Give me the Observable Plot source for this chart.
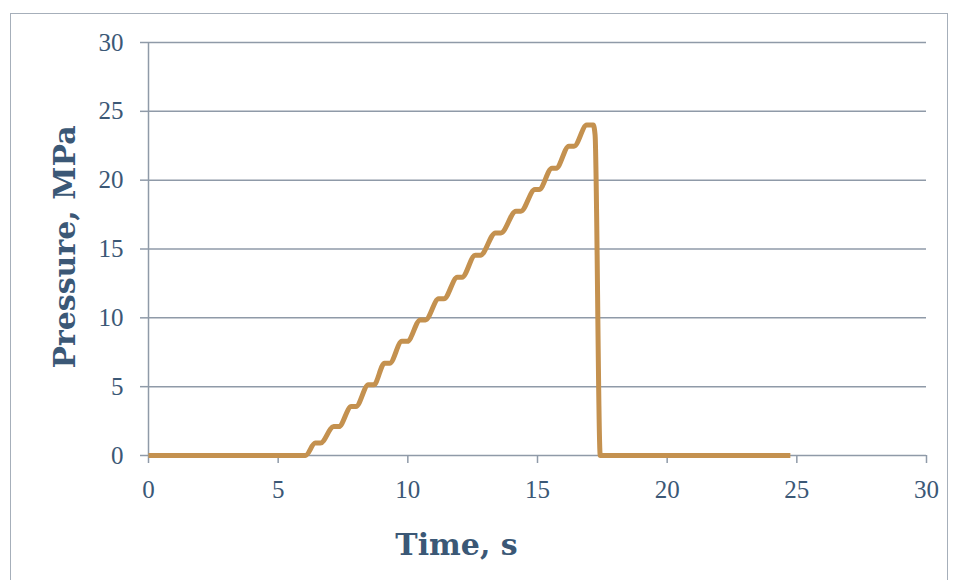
<!DOCTYPE html>
<html>
<head>
<meta charset="utf-8">
<script src="https://cdn.jsdelivr.net/npm/d3@7"></script>
<script src="https://cdn.jsdelivr.net/npm/@observablehq/plot@0.6"></script>
<style>
  html, body { margin: 0; padding: 0; background: #ffffff; }
  #wrap { position: relative; width: 957px; height: 580px; overflow: hidden; }
  #chart { position: absolute; left: 0; top: 0; }
  #border {
    position: absolute; left: 10px; top: 13px; width: 938px; height: 600px;
    border: 1.5px solid #a6afba; box-sizing: border-box; pointer-events: none;
  }
</style>
</head>
<body>
<div id="wrap">
  <div id="chart"></div>
  <div id="border"></div>
</div>
<script>
// Pressure trace over time: staged loading steps, hold at peak, then release
const time = [0, 6.05, 6.43, 6.63, 7.14, 7.34, 7.82, 8.00, 8.48, 8.69, 9.10, 9.30,
  9.77, 9.98, 10.48, 10.68, 11.19, 11.39, 11.91, 12.09, 12.60, 12.80, 13.38, 13.59,
  14.17, 14.36, 14.90, 15.06, 15.56, 15.72, 16.21, 16.41, 16.90, 17.15, 17.22, 17.42, 24.75];
const pressure = [0, 0, 0.9, 0.9, 2.1, 2.1, 3.56, 3.56, 5.14, 5.14, 6.7, 6.7,
  8.29, 8.29, 9.85, 9.85, 11.38, 11.38, 12.95, 12.95, 14.55, 14.55, 16.17, 16.17,
  17.75, 17.75, 19.32, 19.32, 20.87, 20.87, 22.47, 22.47, 24.0, 24.0, 23.3, 0, 0];

const xTicks = [0, 5, 10, 15, 20, 25, 30];
const yTicks = [0, 5, 10, 15, 20, 25, 30];
const xTitle = "Time, s";
const yTitle = "Pressure, MPa";

const data = time.map((t, i) => ({time: t, pressure: pressure[i]}));

const textColor = "#3b5876";
const gridColor = "#8f9aa8";
const lineColor = "#c4914f";
const tickFont = "'Liberation Serif', 'DejaVu Serif', serif";
const titleFont = "'DejaVu Serif', 'Liberation Serif', serif";

const chart = Plot.plot({
  width: 957,
  height: 580,
  marginLeft: 148,
  marginRight: 31,
  marginTop: 42,
  marginBottom: 125,
  style: {fontFamily: tickFont, color: textColor, background: "transparent"},
  x: {domain: [0, 30]},
  y: {domain: [0, 30]},
  marks: [
    Plot.gridY(yTicks, {stroke: gridColor, strokeOpacity: 1, strokeWidth: 1.5}),
    Plot.ruleX([0], {stroke: gridColor, strokeWidth: 1.5}),
    Plot.axisY(yTicks, {
      tickSize: 8, tickPadding: 17, stroke: gridColor, strokeWidth: 1.5,
      fill: textColor, fontSize: 25, label: null
    }),
    Plot.axisX(xTicks, {
      tickSize: 8, tickPadding: 17, stroke: gridColor, strokeWidth: 1.5,
      fill: textColor, fontSize: 25, label: null
    }),
    Plot.line(data, {
      x: "time", y: "pressure", curve: "monotone-x",
      stroke: lineColor, strokeWidth: 5, strokeLinejoin: "round", strokeLinecap: "butt"
    }),
    Plot.text([xTitle], {
      frameAnchor: "bottom", dx: -81, dy: 99, fontSize: 30, fontWeight: "bold",
      fill: textColor, fontFamily: titleFont
    }),
    Plot.text([yTitle], {
      frameAnchor: "left", textAnchor: "middle", lineAnchor: "middle",
      dx: -83, dy: -2, rotate: -90, fontSize: 30,
      fontWeight: "bold", fill: textColor, fontFamily: titleFont
    })
  ]
});

document.getElementById("chart").appendChild(chart);
</script>
</body>
</html>
